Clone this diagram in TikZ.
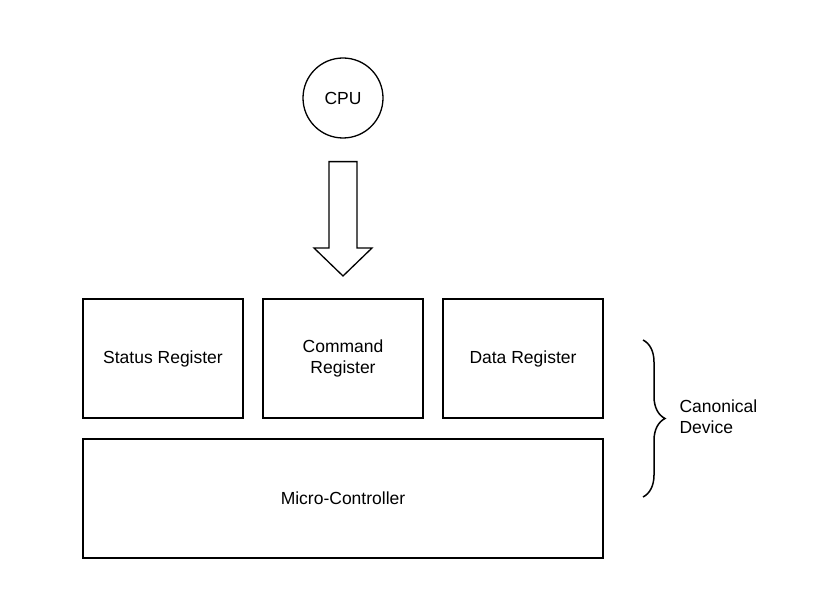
\documentclass[tikz,border=0pt]{standalone}
\usepackage{fontspec}
\setmainfont{Liberation Sans}
\usetikzlibrary{decorations.pathreplacing, calc, positioning}

\tikzset{
  lbl/.style={font=\fontsize{17.5}{21}\selectfont, align=center},
  reg/.style={lbl, draw, line width=1.5pt, minimum width=160pt, minimum height=119pt, inner sep=0pt, outer sep=0pt},
  cpubox/.style={lbl, draw, circle, line width=1.3pt, minimum size=80pt, inner sep=0pt},
  blockarrow/.style={draw, line width=1.3pt, line join=miter},
  curly/.style={draw, line width=1.5pt, decorate, decoration={brace, amplitude=22pt}}
}

\begin{document}
\begin{tikzpicture}[x=1pt, y=-1pt]
      \useasboundingbox (0,0) rectangle (818,612);

      \node[cpubox] (cpu) at (343,98) {CPU};

      \node[reg] (cmd) at (343,358.5) {Command\\Register};
      \node[reg, left=20pt of cmd] (status) {Status Register};
      \node[reg, right=20pt of cmd] (data) {Data Register};
      \node[reg, minimum width=520pt, below=21pt of cmd] (micro) {Micro-Controller};

      % hollow arrow from the CPU down to the registers
      \coordinate (atop) at ($(cpu.south)+(0,23)$);
      \coordinate (atip) at ($(cmd.north)+(0,-23)$);
      \draw[blockarrow] ($(atop)+(-14,0)$) -- ($(atop)+(14,0)$)
        -- ($(atip)+(14,-28)$) -- ($(atip)+(29,-28)$) -- (atip)
        -- ($(atip)+(-29,-28)$) -- ($(atip)+(-14,-28)$) -- cycle;

      % brace round the device
      \coordinate (btop) at (643,340);
      \coordinate (bbot) at (643,497);
      \draw[curly] (btop) -- (bbot);
      \node[lbl, align=left, anchor=west] (canon) at (676,417) {Canonical\\Device};
\end{tikzpicture}
\end{document}
